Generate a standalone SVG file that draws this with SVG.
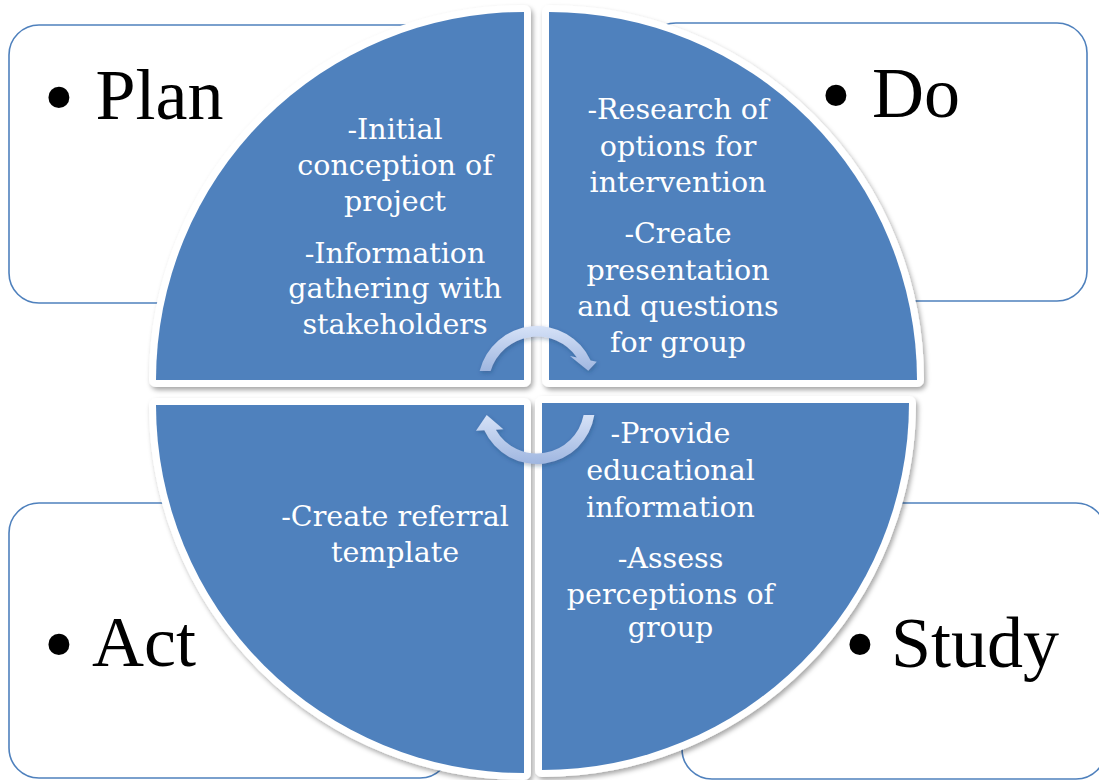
<svg xmlns="http://www.w3.org/2000/svg" width="1099" height="780" viewBox="0 0 1099 780">
  <defs>
    <filter id="quadShadow" x="-10%" y="-10%" width="120%" height="120%">
      <feDropShadow dx="2" dy="3" stdDeviation="2.5" flood-color="#000" flood-opacity="0.35"/>
    </filter>
    <filter id="arrowShadow" x="-20%" y="-20%" width="140%" height="140%">
      <feDropShadow dx="1" dy="2" stdDeviation="2" flood-color="#1f3a66" flood-opacity="0.35"/>
    </filter>
    <linearGradient id="arrowFill" x1="0" y1="0" x2="0" y2="1">
      <stop offset="0" stop-color="#d6e2f7"/>
      <stop offset="1" stop-color="#9fb6e0"/>
    </linearGradient>
  </defs>
  <style>
    .box { fill: #ffffff; stroke: #4f81bd; stroke-width: 1.6; }
    .quad { fill: #4f81bd; stroke: #ffffff; stroke-width: 14; stroke-linejoin: round; paint-order: stroke; }
    .label { font-family: "Liberation Serif", "Times New Roman", serif; font-size: 72px; fill: #000000; }
    .bullet { font-family: "Liberation Serif", "Times New Roman", serif; font-size: 88px; fill: #000000; }
    .body { font-family: "DejaVu Serif", "Liberation Serif", serif; font-size: 28.5px; fill: #ffffff; text-anchor: middle; }
    .arrow { fill: url(#arrowFill); }
  </style>

  <rect width="1099" height="780" fill="#ffffff"/>

  <!-- corner boxes -->
  <g id="box-plan">
    <rect class="box" x="9" y="25" width="441" height="278" rx="30"/>
  </g>
  <g id="box-do">
    <rect class="box" x="646" y="23" width="441" height="278" rx="30"/>
  </g>
  <g id="box-act">
    <rect class="box" x="9" y="503" width="441" height="275" rx="30"/>
  </g>
  <g id="box-study">
    <rect class="box" x="682" y="503" width="424" height="276" rx="30"/>
  </g>

  <!-- circle quarters -->
  <g filter="url(#quadShadow)">
    <g id="quad-plan">
      <path class="quad" d="M524,380 L156,380 A368,368 0 0 1 524,12 Z"/>
    </g>
    <g id="quad-do">
      <path class="quad" d="M549,380 L549,12 A368,368 0 0 1 917,380 Z"/>
    </g>
    <g id="quad-act">
      <path class="quad" d="M524,405 L524,773 A368,368 0 0 1 156,405 Z"/>
    </g>
    <g id="quad-study">
      <path class="quad" d="M542,403 L909,403 A367,367 0 0 1 542,770 Z"/>
    </g>
  </g>

  <!-- cycle arrows -->
  <g id="connectors" filter="url(#arrowShadow)">
    <path class="arrow" d="M479.7,371 A59,59 0 0 1 590.6,360.4 L596.7,361.7 L588.3,370.7 L570,356 L576.9,357.5 A48.5,48.5 0 0 0 490.6,371 Z"/>
    <path class="arrow" d="M594.3,415 A58,58 0 0 1 484.3,430.3 L476,430.7 L486.7,415 L503.3,429.3 L495.8,429.7 A47.5,47.5 0 0 0 583.6,415 Z"/>
  </g>

  <!-- corner labels -->
  <g id="label-plan">
    <text class="bullet" x="43.6" y="126.7">•</text>
    <text class="label" x="95.5" y="119.3">Plan</text>
  </g>
  <g id="label-do">
    <text class="bullet" x="820.6" y="124.9">•</text>
    <text class="label" x="872" y="116.7">Do</text>
  </g>
  <g id="label-act">
    <text class="bullet" x="43.6" y="673.7">•</text>
    <text class="label" x="92" y="665.7">Act</text>
  </g>
  <g id="label-study">
    <text class="bullet" x="844.6" y="673.7">•</text>
    <text class="label" x="891" y="666.7">Study</text>
  </g>

  <!-- quarter texts -->
  <g id="text-plan">
    <text class="body" x="395" y="139">-Initial</text>
    <text class="body" x="395" y="175">conception of</text>
    <text class="body" x="395" y="211">project</text>
    <text class="body" x="395" y="263">-Information</text>
    <text class="body" x="395" y="298">gathering with</text>
    <text class="body" x="395" y="334">stakeholders</text>
  </g>
  <g id="text-do">
    <text class="body" x="678" y="119">-Research of</text>
    <text class="body" x="678" y="155.5">options for</text>
    <text class="body" x="678" y="191.5">intervention</text>
    <text class="body" x="678" y="243">-Create</text>
    <text class="body" x="678" y="280">presentation</text>
    <text class="body" x="678" y="315.5">and questions</text>
    <text class="body" x="678" y="351.5">for group</text>
  </g>
  <g id="text-act">
    <text class="body" x="395" y="526">-Create referral</text>
    <text class="body" x="395" y="562">template</text>
  </g>
  <g id="text-study">
    <text class="body" x="670.5" y="443">-Provide</text>
    <text class="body" x="670.5" y="480">educational</text>
    <text class="body" x="670.5" y="516.5">information</text>
    <text class="body" x="670.5" y="568">-Assess</text>
    <text class="body" x="670.5" y="603.5">perceptions of</text>
    <text class="body" x="670.5" y="637">group</text>
  </g>
</svg>
